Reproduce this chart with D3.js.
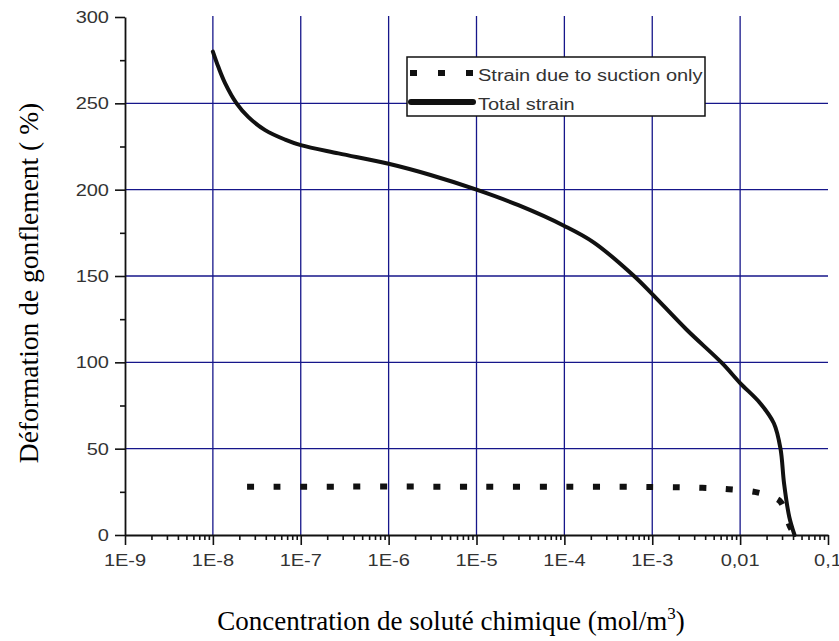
<!DOCTYPE html>
<html>
<head>
<meta charset="utf-8">
<script src="https://cdn.jsdelivr.net/npm/d3@7"></script>
<style>
  body { margin: 0; background: #fff; }
  svg { display: block; }
</style>
</head>
<body>
<div id="chart"></div>
<script>
// data
const totalConc = [1e-8, 1.156e-8, 1.38e-8, 1.86e-8, 2.54e-8, 3.93e-8, 6.64e-8, 1e-7, 2.69e-7, 1e-6, 3e-6, 1e-5, 3e-5, 1e-4, 2.15e-4, 6.2e-4, 1e-3, 2.45e-3, 6.24e-3, 1e-2, 1.7e-2, 2.42e-2, 2.88e-2, 3.16e-2, 3.62e-2, 4.16e-2];
const totalStrain = [280, 271, 261.6, 250, 242, 234.5, 229, 225.8, 221, 215, 208.5, 200, 191, 179, 169.5, 150, 139.5, 119, 99.5, 88, 76.2, 64.7, 50, 30, 10.6, 0];

const suctionConc = [2.45e-8, 1e-5, 1e-3, 3.7e-3, 7.4e-3, 1.46e-2, 2.2e-2, 2.88e-2, 3.3e-2, 3.7e-2, 4.2e-2];
const suctionStrain = [28, 28, 27.8, 27.3, 26.5, 25, 22.5, 19.3, 12, 4.8, 0];

const xTicks = [1e-9, 1e-8, 1e-7, 1e-6, 1e-5, 1e-4, 1e-3, 1e-2, 1e-1];
const xTickLabels = ["1E-9", "1E-8", "1E-7", "1E-6", "1E-5", "1E-4", "1E-3", "0,01", "0,1"];
const yTicks = [0, 50, 100, 150, 200, 250, 300];
const yMinorTicks = [25, 75, 125, 175, 225, 275];
const yGrid = [50, 100, 150, 200, 250];
const xGrid = [1e-8, 1e-7, 1e-6, 1e-5, 1e-4, 1e-3, 1e-2];

const legendLabels = ["Strain due to suction only", "Total strain"];

const width = 839, height = 641;
const gridColor = "#16168a";
const labelColor = "#333";
const stretch = 1.25;

const svg = d3.select("#chart").append("svg")
  .attr("width", width)
  .attr("height", height);

svg.append("rect").attr("width", width).attr("height", height).attr("fill", "#fff");

const x = d3.scaleLog().domain([1e-9, 0.1]).range([125, 828]);
const y = d3.scaleLinear().domain([0, 300]).range([535, 17]);

// minor ticks on the log axis: 2..9 of each decade
const xMinor = [];
for (let e = -9; e < -1; e++) {
  for (let m = 2; m <= 9; m++) xMinor.push(m * Math.pow(10, e));
}

// grid
svg.append("g")
  .selectAll("line")
  .data(xGrid)
  .join("line")
  .attr("x1", d => x(d)).attr("x2", d => x(d))
  .attr("y1", y(300) - 1).attr("y2", y(0))
  .attr("stroke", gridColor).attr("stroke-width", 1.3);

svg.append("g")
  .selectAll("line")
  .data(yGrid)
  .join("line")
  .attr("x1", x(1e-9)).attr("x2", x(0.1))
  .attr("y1", d => y(d)).attr("y2", d => y(d))
  .attr("stroke", gridColor).attr("stroke-width", 1.3);

// axes
svg.append("g")
  .attr("transform", `translate(${x(1e-9)},0)`)
  .call(d3.axisLeft(y).tickValues(yTicks).tickSize(10).tickSizeOuter(0).tickFormat(""));
const yAxisMinor = svg.append("g")
  .attr("transform", `translate(${x(1e-9)},0)`)
  .call(d3.axisLeft(y).tickValues(yMinorTicks).tickSize(5).tickSizeOuter(0).tickFormat(""));
yAxisMinor.select(".domain").remove();

svg.append("g")
  .attr("transform", `translate(0,${y(0)})`)
  .call(d3.axisBottom(x).tickValues(xTicks).tickSize(10).tickSizeOuter(0).tickFormat(""));
const xAxisMinor = svg.append("g")
  .attr("transform", `translate(0,${y(0)})`)
  .call(d3.axisBottom(x).tickValues(xMinor).tickSize(5).tickSizeOuter(0).tickFormat(""));
xAxisMinor.select(".domain").remove();

svg.selectAll(".domain").attr("stroke", "#111").attr("stroke-width", 1.8);
svg.selectAll(".tick line").attr("stroke", "#111").attr("stroke-width", 1.6);

// tick labels (horizontally stretched sans)
svg.append("g")
  .selectAll("text")
  .data(yTicks)
  .join("text")
  .attr("transform", d => `translate(109,${y(d) + 6}) scale(${stretch},1)`)
  .attr("text-anchor", "end")
  .attr("font-family", "Liberation Sans, Arial, sans-serif")
  .attr("font-size", 16)
  .attr("fill", labelColor)
  .text(d => d);

svg.append("g")
  .selectAll("text")
  .data(xTicks)
  .join("text")
  .attr("transform", d => `translate(${x(d)},566) scale(${stretch},1)`)
  .attr("text-anchor", "middle")
  .attr("font-family", "Liberation Sans, Arial, sans-serif")
  .attr("font-size", 16)
  .attr("fill", labelColor)
  .text((d, i) => xTickLabels[i]);

// series
const suctionData = suctionConc.map((c, i) => [c, suctionStrain[i]]);
const totalData = totalConc.map((c, i) => [c, totalStrain[i]]);

const line = d3.line()
  .x(d => x(d[0]))
  .y(d => y(d[1]))
  .curve(d3.curveCatmullRom.alpha(0.5));

svg.append("path")
  .datum(suctionData)
  .attr("d", line)
  .attr("fill", "none")
  .attr("stroke", "#111")
  .attr("stroke-width", 6)
  .attr("stroke-dasharray", "7,19.6");

svg.append("path")
  .datum(totalData)
  .attr("d", line)
  .attr("fill", "none")
  .attr("stroke", "#111")
  .attr("stroke-width", 4)
  .attr("stroke-linejoin", "round")
  .attr("stroke-linecap", "round");

// legend
const legend = svg.append("g").attr("transform", "translate(407,57)");
legend.append("rect")
  .attr("width", 298).attr("height", 59)
  .attr("fill", "#fff").attr("stroke", "#111").attr("stroke-width", 1.5);

legend.append("line")
  .attr("x1", 3).attr("x2", 67).attr("y1", 16).attr("y2", 16)
  .attr("stroke", "#111").attr("stroke-width", 6)
  .attr("stroke-dasharray", "7,21");
legend.append("line")
  .attr("x1", 4).attr("x2", 66).attr("y1", 45).attr("y2", 45)
  .attr("stroke", "#111").attr("stroke-width", 6).attr("stroke-linecap", "round");

legend.selectAll("text.lab")
  .data(legendLabels)
  .join("text")
  .attr("class", "lab")
  .attr("transform", (d, i) => `translate(71,${i === 0 ? 24 : 53}) scale(${stretch},1)`)
  .attr("font-family", "Liberation Sans, Arial, sans-serif")
  .attr("font-size", 16)
  .attr("fill", labelColor)
  .text(d => d);

// axis titles
const xTitle = svg.append("text")
  .attr("x", 451).attr("y", 630)
  .attr("text-anchor", "middle")
  .attr("font-family", "Liberation Serif, Times New Roman, serif")
  .attr("font-size", 27)
  .attr("fill", "#000");
xTitle.append("tspan").text("Concentration de soluté chimique (mol/m");
xTitle.append("tspan").attr("font-size", 17).attr("dy", -11).text("3");
xTitle.append("tspan").attr("dy", 11).text(")");

svg.append("text")
  .attr("transform", "translate(38,283) rotate(-90)")
  .attr("text-anchor", "middle")
  .attr("font-family", "Liberation Serif, Times New Roman, serif")
  .attr("font-size", 27.5)
  .attr("fill", "#000")
  .text("Déformation de gonflement ( %)");
</script>
</body>
</html>
